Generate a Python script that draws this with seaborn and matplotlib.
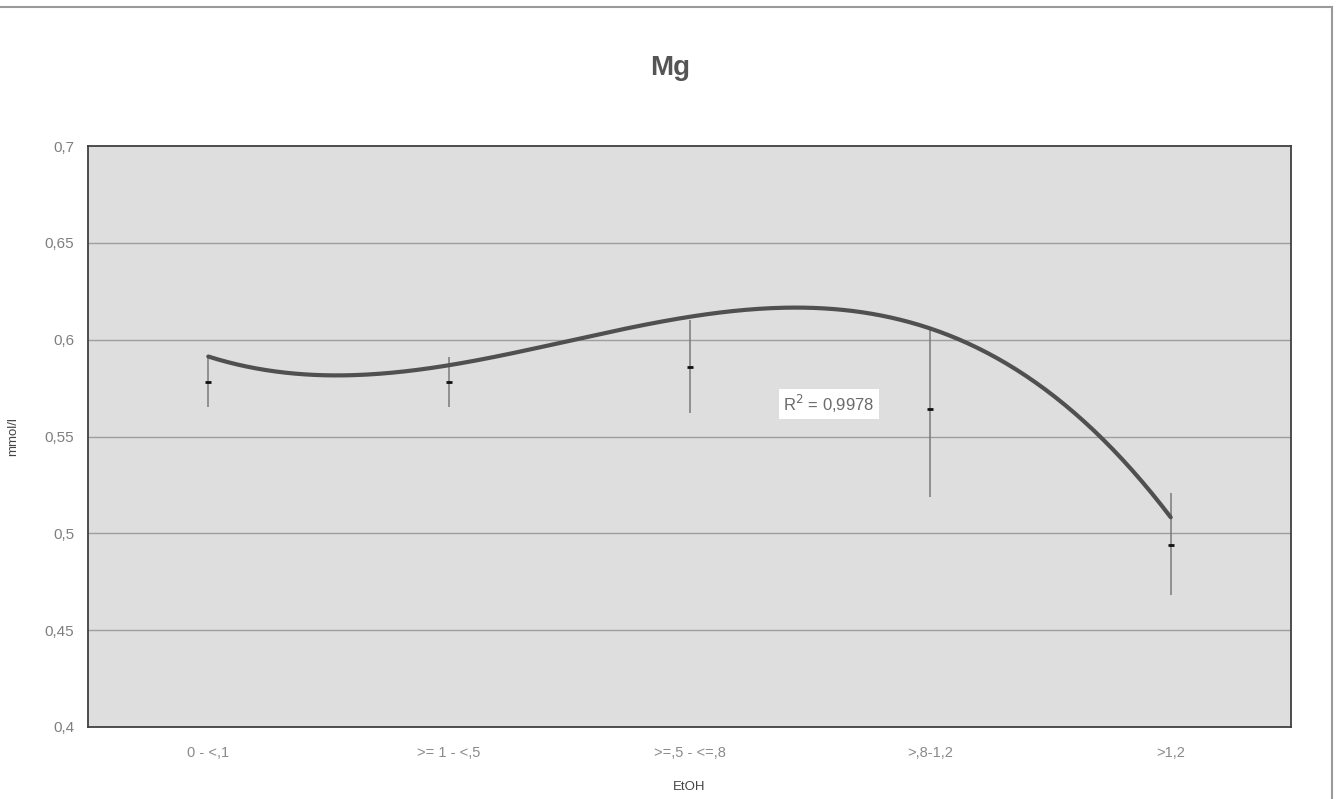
import numpy as np
import pandas as pd
import matplotlib
matplotlib.use("Agg")
import matplotlib.pyplot as plt
import seaborn as sns
from matplotlib.patches import Rectangle

# ---- data ----
categories = ["0 - <,1", ">= 1 - <,5", ">=,5 - <=,8", ">,8-1,2", ">1,2"]
means = [0.578, 0.578, 0.586, 0.564, 0.494]
err_low = [0.565, 0.565, 0.562, 0.519, 0.468]
err_high = [0.591, 0.591, 0.610, 0.606, 0.521]
trend_source = [0.591, 0.588, 0.610, 0.607, 0.508]   # series the polynomial trendline is fitted to
r2_text = "R$^2$ = 0,9978"
yticks = [0.4, 0.45, 0.5, 0.55, 0.6, 0.65, 0.7]
ytick_labels = ["0,4", "0,45", "0,5", "0,55", "0,6", "0,65", "0,7"]

sns.set_theme(style="white")
plt.rcParams["font.family"] = ["Liberation Sans", "DejaVu Sans"]

W, H = 1341, 799
fig = plt.figure(figsize=(W / 100, H / 100), dpi=100, facecolor="white")
ax = fig.add_axes([88 / W, 1 - 727 / H, (1291 - 88) / W, (727 - 146) / H])
ax.set_facecolor("#dedede")

pos = np.arange(len(categories))
df = pd.DataFrame({"pos": pos, "mean": means, "lo": err_low, "hi": err_high})

# gridlines
for y in yticks[1:-1]:
    ax.axhline(y, color="#9e9e9e", lw=1.0, zorder=1)

# polynomial (order 3) trendline
coef = np.polyfit(pos, trend_source, 3)
xs = np.linspace(pos[0], pos[-1], 300)
trend_df = pd.DataFrame({"x": xs, "y": np.polyval(coef, xs)})
sns.lineplot(data=trend_df, x="x", y="y", ax=ax, color="#505050", lw=3.0, zorder=4)

# error bars
ax.vlines(df["pos"], df["lo"], df["hi"], color="#7a7a7a", lw=1.1, zorder=3)
# mean markers
sns.scatterplot(data=df, x="pos", y="mean", ax=ax, marker="_", s=22,
                color="#111111", linewidth=2.0, zorder=5)

ax.text(2.58, 0.5668, r2_text, fontsize=12, color="#6a6a6a", ha="center", va="center",
        bbox=dict(boxstyle="square,pad=0.25", facecolor="white", edgecolor="none"), zorder=6)

ax.set_xlim(-0.5, len(categories) - 0.5)
ax.set_ylim(0.4, 0.7)
ax.set_xticks(pos)
ax.set_xticklabels(categories, fontsize=10.5, color="#8a8a8a")
ax.set_yticks(yticks)
ax.set_yticklabels(ytick_labels, fontsize=11, color="#7f7f7f")
ax.tick_params(axis="both", length=0)
ax.tick_params(axis="y", pad=10)
ax.tick_params(axis="x", pad=14)
ax.set_xlabel("EtOH", fontsize=9.5, color="#444444", labelpad=15)
ax.set_ylabel("mmol/l", fontsize=9.5, color="#444444", labelpad=18)

for s in ax.spines.values():
    s.set_color("#404040")
    s.set_linewidth(1.3)
    s.set_visible(True)

fig.text(0.5, 1 - 68 / H, "Mg", fontsize=20, fontweight="bold", color="#555555",
         ha="center", va="center")

# outer frame of the chart
fig.patches.append(Rectangle((-0.01, -0.01), 1332 / W + 0.01, 1 - 7 / H + 0.01,
                             transform=fig.transFigure, fill=False,
                             edgecolor="#9a9a9a", lw=1.5))

fig.savefig("out.png", dpi=100, facecolor="white")
